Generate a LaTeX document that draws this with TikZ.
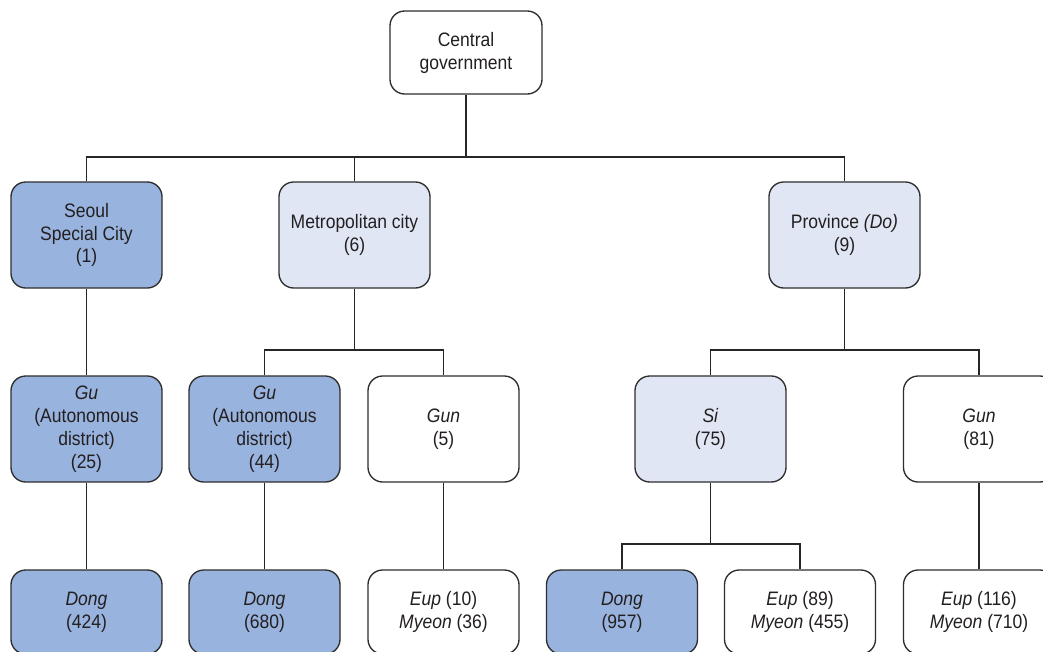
\documentclass[tikz,border=0pt]{standalone}
\usepackage{fontspec}
\setmainfont{Liberation Sans}[FakeStretch=0.9]
\definecolor{darkblue}{HTML}{98B3DD}
\definecolor{lightblue}{HTML}{E0E6F4}
\definecolor{edge}{HTML}{2E2E2E}
\definecolor{txt}{HTML}{231F20}
\tikzset{
  box/.style={draw=edge, line width=1pt, rounded corners=11pt, align=center,
    text=txt, font=\fontsize{14.6}{17.2}\selectfont,
    minimum width=113.25pt, minimum height=79.5pt, inner sep=0pt},
  dark/.style={box, fill=darkblue},
  light/.style={box, fill=lightblue},
  plain/.style={box, fill=white},
  low/.style={minimum height=63pt},
  conn/.style={draw=black!85, line width=1.2pt}
}
\begin{document}
\begin{tikzpicture}[x=0.75pt, y=-0.75pt]
\clip (0,0) rectangle (1043,651);
\fill[white] (0,0) rectangle (1043,651);
% row 1
\node[plain, minimum width=114pt, minimum height=62.25pt] (cg) at (466,52.5) {Central\\government};
% row 2
\node[dark] (seoul) at (86.5,235) {Seoul\\Special City\\(1)};
\node[light] (metro) at (354.5,235) {Metropolitan city\\(6)};
\node[light] (prov) at (844.5,235) {Province \textit{(Do)}\\(9)};
% row 3
\node[dark] (gu1) at (86.5,429) {\textit{Gu}\\(Autonomous\\district)\\(25)};
\node[dark] (gu2) at (264.5,429) {\textit{Gu}\\(Autonomous\\district)\\(44)};
\node[plain] (gun1) at (443.5,429) {\textit{Gun}\\(5)};
\node[light] (si) at (710.5,429) {\textit{Si}\\(75)};
\node[plain] (gun2) at (979,429) {\textit{Gun}\\(81)};
% row 4
\node[dark, low] (dong1) at (86.5,612) {\textit{Dong}\\(424)};
\node[dark, low] (dong2) at (264.5,612) {\textit{Dong}\\(680)};
\node[plain, low] (eup1) at (443.5,612) {\textit{Eup} (10)\\\textit{Myeon} (36)};
\node[dark, low] (dong3) at (622,612) {\textit{Dong}\\(957)};
\node[plain, low] (eup2) at (800,612) {\textit{Eup} (89)\\\textit{Myeon} (455)};
\node[plain, low] (eup3) at (979,612) {\textit{Eup} (116)\\\textit{Myeon} (710)};
% bus coordinates
\coordinate (b1) at (466,157);
\coordinate (b2) at (354.5,350);
\coordinate (b3) at (844.5,350);
\coordinate (b4) at (710.5,544);
% connectors
\draw[conn] (cg.south) -- (b1);
\draw[conn] (seoul.north) -- (seoul.north |- b1) -- (prov.north |- b1) -- (prov.north);
\draw[conn] (metro.north) -- (metro.north |- b1);
\draw[conn] (seoul.south) -- (gu1.north);
\draw[conn] (gu1.south) -- (dong1.north);
\draw[conn] (metro.south) -- (b2);
\draw[conn] (gu2.north) -- (gu2.north |- b2) -- (gun1.north |- b2) -- (gun1.north);
\draw[conn] (prov.south) -- (b3);
\draw[conn] (si.north) -- (si.north |- b3) -- (gun2.north |- b3) -- (gun2.north);
\draw[conn] (gu2.south) -- (dong2.north);
\draw[conn] (gun1.south) -- (eup1.north);
\draw[conn] (si.south) -- (b4);
\draw[conn] (dong3.north) -- (dong3.north |- b4) -- (eup2.north |- b4) -- (eup2.north);
\draw[conn] (gun2.south) -- (eup3.north);
\end{tikzpicture}
\end{document}
